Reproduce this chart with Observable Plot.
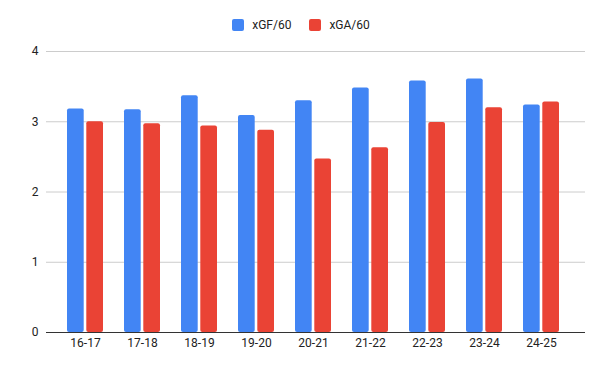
<!DOCTYPE html>
<html>
<head>
<meta charset="utf-8">
<script src="https://cdn.jsdelivr.net/npm/d3@7"></script>
<script src="https://cdn.jsdelivr.net/npm/@observablehq/plot@0.6"></script>
<style>
  html, body { margin: 0; padding: 0; background: #fff; }
  body { width: 600px; height: 371px; overflow: hidden; font-family: Roboto, "Liberation Sans", sans-serif; }
  #legend { height: 30px; padding-top: 10px; display: flex; justify-content: center; align-items: center; font-size: 12px; color: #222; padding-left: 2px; }
  .item { display: flex; align-items: center; }
  .sw { width: 12px; height: 12px; border-radius: 2px; margin-right: 8px; }
  .item + .item { margin-left: 18px; }
</style>
</head>
<body>
<div id="legend"></div>
<div id="chart"></div>
<script>
const seasons = ["16-17","17-18","18-19","19-20","20-21","21-22","22-23","23-24","24-25"];
const xGF = [3.18, 3.17, 3.37, 3.09, 3.30, 3.48, 3.58, 3.61, 3.24];
const xGA = [3.00, 2.97, 2.94, 2.88, 2.47, 2.63, 2.99, 3.20, 3.28];
const seriesNames = ["xGF/60", "xGA/60"];
const colors = ["#4285F4", "#EA4335"];
const yTicks = [0, 1, 2, 3, 4];

const legend = document.getElementById("legend");
seriesNames.forEach((n, i) => {
  const it = document.createElement("div");
  it.className = "item";
  it.innerHTML = `<div class="sw" style="background:${colors[i]}"></div><span>${n}</span>`;
  legend.appendChild(it);
});

const gf = seasons.map((s, i) => ({season: s, value: xGF[i]}));
const ga = seasons.map((s, i) => ({season: s, value: xGA[i]}));

const chart = Plot.plot({
  width: 600,
  height: 331,
  marginLeft: 46,
  marginRight: 15,
  marginTop: 11,
  marginBottom: 39,
  style: {fontFamily: "Roboto, 'Liberation Sans', sans-serif", fontSize: "12px", color: "#222"},
  x: {domain: seasons, paddingInner: 0.373, paddingOuter: 0.382, align: 0.45, label: null},
  y: {domain: [0, 4], label: null},
  marks: [
    Plot.ruleY(yTicks.filter(d => d > 0), {stroke: "#cccccc", strokeWidth: 1}),
    Plot.barY(gf, {x: "season", y: "value", fill: colors[0], insetRight: 19.3, rx: 2}),
    Plot.barY(ga, {x: "season", y: "value", fill: colors[1], insetLeft: 19.3, rx: 2}),
    Plot.ruleY([0], {stroke: "#333333", strokeWidth: 1}),
    Plot.axisY(yTicks, {tickSize: 0, tickPadding: 8, label: null, fill: "#222", tickFormat: d3.format("d")}),
    Plot.axisX({tickSize: 0, tickPadding: 6, label: null, fill: "#222"})
  ]
});
document.getElementById("chart").appendChild(chart);
</script>
</body>
</html>
